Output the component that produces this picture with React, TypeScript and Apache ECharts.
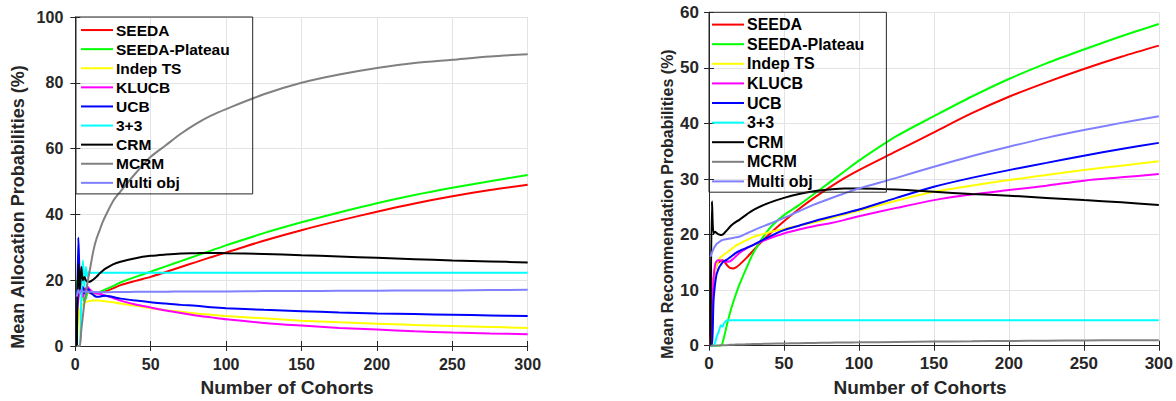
import React, { useEffect, useRef } from "react";
import * as echarts from "echarts";

// cohort grid shared by all series
const X = [1, 2, 3, 4, 5, 6, 7, 8, 9, 10, 12, 14, 16, 18, 20, 25, 30, 40, 50, 60, 70, 80, 90, 100, 125, 150, 175, 200, 225, 250, 275, 300];

const names = ["SEEDA", "SEEDA-Plateau", "Indep TS", "KLUCB", "UCB", "3+3", "CRM", "MCRM", "Multi obj"];
const colors = ["#ff0000", "#00ff00", "#ffff00", "#ff00ff", "#0000ff", "#00ffff", "#000000", "#808080", "#8080ff"];

// ---- Left: Mean Allocation Probabilities (%)
const allocSEEDA = [20, 15, 18, 17, 16, 17.5, 17, 17, 16.5, 16, 16, 16, 16.1, 16.3, 16.6, 17.5, 18.5, 19.8, 21, 22.5, 24, 25.5, 27, 28.4, 32, 35.2, 38.1, 40.8, 43.3, 45.5, 47.4, 49];
const allocPlateau = [20, 15, 17, 18, 16, 13.5, 14.5, 16, 16.5, 16.5, 16, 16, 16.3, 16.8, 17.2, 18.2, 19.3, 21, 22.6, 24.2, 25.8, 27.4, 29, 30.6, 34.3, 37.6, 40.6, 43.4, 45.9, 48.1, 50.1, 52];
const allocIndepTS = [0, 8, 11, 12, 12.5, 13, 13.3, 13.5, 13.6, 13.7, 13.8, 13.8, 13.8, 13.7, 13.6, 13.3, 12.9, 12.2, 11.5, 10.9, 10.4, 9.9, 9.5, 9.1, 8.4, 7.7, 7.2, 6.8, 6.4, 6.1, 5.8, 5.5];
const allocKLUCB = [10, 14, 17, 16, 15, 16.5, 17.5, 18, 17.5, 17, 16.3, 16, 15.8, 15.6, 15.3, 14.6, 13.8, 12.6, 11.7, 10.8, 10, 9.3, 8.7, 8.1, 7, 6.2, 5.5, 5, 4.5, 4.1, 3.8, 3.6];
const allocUCB = [0, 33, 20, 17, 18, 16, 17, 17.5, 17, 16.3, 15.5, 15, 15, 15.2, 15.3, 14.9, 14.4, 13.8, 13.3, 12.9, 12.5, 12.2, 11.8, 11.5, 11, 10.6, 10.2, 9.9, 9.7, 9.5, 9.3, 9.1];
const alloc33 = [0, 0, 0, 15, 26, 18, 24, 21, 22.5, 22.2, 22.3, 22.3, 22.3, 22.3, 22.3, 22.3, 22.3, 22.3, 22.3, 22.3, 22.3, 22.3, 22.3, 22.3, 22.3, 22.3, 22.3, 22.3, 22.3, 22.3, 22.3, 22.3];
const allocCRM = [0, 25, 17, 24, 20, 21, 20, 19.5, 19.5, 19.6, 20.2, 21, 22, 22.8, 23.5, 24.8, 25.6, 26.7, 27.4, 27.8, 28.1, 28.2, 28.3, 28.2, 28, 27.6, 27.2, 26.8, 26.4, 26, 25.7, 25.4];
const allocMCRM = [0, 0, 0, 5, 9, 13, 16, 19, 21.5, 24, 29, 32.5, 35, 37.5, 39.5, 44, 47, 52.5, 57.5, 61, 64.5, 67.5, 70, 72, 76.5, 80, 82.5, 84.5, 86, 87, 88, 88.7];
const allocMulti = [15, 17, 16, 17, 16.5, 16.6, 16.6, 16.5, 16.5, 16.5, 16.4, 16.4, 16.3, 16.3, 16.3, 16.4, 16.4, 16.5, 16.5, 16.5, 16.6, 16.6, 16.6, 16.6, 16.7, 16.7, 16.8, 16.8, 16.9, 16.9, 17, 17.1];

// ---- Right: Mean Recommendation Probabilities (%)
const recSEEDA = [0, 8, 12, 13.5, 14.5, 15, 15.1, 15.3, 15.4, 15.2, 14.5, 14, 13.9, 14.1, 14.5, 15.8, 17.3, 20, 22.4, 24.6, 26.6, 28.4, 30.1, 31.6, 35, 38.4, 41.8, 44.8, 47.4, 49.8, 52, 54];
const recPlateau = [0, 0, 0, 0, 0, 0, 0, 0, 0.5, 1.5, 3.8, 5.9, 7.7, 9.3, 10.8, 14, 16.9, 21, 23.5, 25.3, 27.3, 29.3, 31.3, 33.3, 37.7, 41.3, 44.8, 48, 50.8, 53.3, 55.7, 57.9];
const recIndepTS = [0, 6, 12, 13.5, 14.5, 15.2, 15.7, 16, 16.2, 16.4, 16.8, 17.2, 17.6, 18, 18.3, 19, 19.6, 20.4, 21, 21.6, 22.2, 22.9, 23.6, 24.3, 26.1, 27.7, 28.8, 29.8, 30.7, 31.6, 32.4, 33.2];
const recKLUCB = [0, 5, 12, 14.5, 15.2, 15.4, 15.4, 15.3, 15.2, 15.1, 15.1, 15.2, 15.6, 16.1, 16.6, 17.5, 18.2, 19.3, 20.2, 20.9, 21.5, 22, 22.6, 23.3, 24.8, 26.2, 27.2, 28, 28.8, 29.7, 30.3, 30.9];
const recUCB = [0, 0, 8, 11, 12.8, 13.6, 14.2, 14.6, 15, 15.2, 15.5, 15.9, 16.3, 16.7, 17, 17.6, 18.2, 19.6, 20.8, 21.6, 22.4, 23.1, 23.8, 24.5, 26.6, 28.6, 30.2, 31.6, 32.9, 34.2, 35.4, 36.5];
const rec33 = [0, 0, 0, 0.5, 1.5, 2.2, 3, 3.7, 3.4, 4, 4.6, 4.6, 4.6, 4.6, 4.6, 4.6, 4.6, 4.6, 4.6, 4.6, 4.6, 4.6, 4.6, 4.6, 4.6, 4.6, 4.6, 4.6, 4.6, 4.6, 4.6, 4.6];
const recCRM = [0, 26, 20.2, 20.5, 20.3, 20.1, 20, 19.9, 20, 20.2, 20.8, 21.4, 21.9, 22.3, 22.6, 23.6, 24.5, 25.7, 26.6, 27.3, 27.8, 28.1, 28.3, 28.3, 28.1, 27.7, 27.3, 27, 26.6, 26.2, 25.8, 25.3];
const recMCRM = [0, 0, 0, 0, 0, 0.05, 0.05, 0.1, 0.1, 0.1, 0.1, 0.15, 0.15, 0.2, 0.2, 0.25, 0.3, 0.35, 0.4, 0.45, 0.5, 0.55, 0.58, 0.6, 0.68, 0.75, 0.8, 0.85, 0.9, 0.95, 0.98, 1.0];
const recMulti = [16, 16.8, 17.4, 17.9, 18.3, 18.5, 18.7, 18.9, 19, 19.1, 19.2, 19.3, 19.4, 19.5, 19.6, 20.2, 20.8, 21.9, 23, 24.2, 25.4, 26.4, 27.4, 28.3, 30.2, 32.2, 34.1, 35.8, 37.4, 38.8, 40.1, 41.3];

const allocSeries = [allocSEEDA, allocPlateau, allocIndepTS, allocKLUCB, allocUCB, alloc33, allocCRM, allocMCRM, allocMulti];
const recSeries = [recSEEDA, recPlateau, recIndepTS, recKLUCB, recUCB, rec33, recCRM, recMCRM, recMulti];

const xTicksMax = 300;
const FONT = "'Liberation Sans', Arial, Helvetica, sans-serif";
const AXIS = "#262626";
const GRID = "#e3e3e3";

function axisPair(grid: number, fontSize: number, margin: number) {
  const common = {
    gridIndex: grid,
    type: "value" as const,
    min: 0,
    max: xTicksMax,
    interval: 50,
  };
  return [
    {
      ...common,
      position: "bottom",
      axisLine: { show: true, lineStyle: { color: AXIS, width: 1 } },
      axisTick: { show: true, inside: true, length: 5, lineStyle: { color: AXIS } },
      axisLabel: { show: true, color: AXIS, fontSize, fontWeight: "bold", fontFamily: FONT, margin },
      splitLine: { show: true, lineStyle: { color: GRID, width: 1 } },
    },
    {
      ...common,
      position: "top",
      axisLine: { show: true, lineStyle: { color: AXIS, width: 1 } },
      axisTick: { show: true, inside: true, length: 5, lineStyle: { color: AXIS } },
      axisLabel: { show: false },
      splitLine: { show: false },
    },
  ];
}

function yPair(grid: number, max: number, interval: number, fontSize: number, margin: number) {
  const common = { gridIndex: grid, type: "value" as const, min: 0, max, interval };
  return [
    {
      ...common,
      position: "left",
      axisLine: { show: true, lineStyle: { color: AXIS, width: 1 } },
      axisTick: { show: true, inside: true, length: 5, lineStyle: { color: AXIS } },
      axisLabel: { show: true, color: AXIS, fontSize, fontWeight: "bold", fontFamily: FONT, margin },
      splitLine: { show: true, lineStyle: { color: GRID, width: 1 } },
    },
    {
      ...common,
      position: "right",
      axisLine: { show: true, lineStyle: { color: AXIS, width: 1 } },
      axisTick: { show: true, inside: true, length: 5, lineStyle: { color: AXIS } },
      axisLabel: { show: false },
      splitLine: { show: false },
    },
  ];
}

function legendFor(left: number, top: number, fontSize: number, padding: number[], lineHeight: number) {
  return {
    left,
    top,
    orient: "vertical",
    icon: "rect",
    itemWidth: 32,
    itemHeight: 2,
    itemGap: 0,
    padding,
    borderColor: AXIS,
    borderWidth: 1,
    backgroundColor: "transparent",
    selectedMode: false,
    textStyle: { fontSize, fontWeight: "bold", color: "#000", fontFamily: FONT, lineHeight, padding: [0, 0, 0, -2] },
    data: names,
  };
}

export default function App() {
  const ref = useRef<HTMLDivElement>(null);
  useEffect(() => {
    document.body.style.margin = "0";
    if (!ref.current) return;
    const chart = echarts.init(ref.current, null, { renderer: "svg" });
    const mk = (arrs: number[][], xi: number, yi: number) =>
      arrs.map((arr, k) => ({
        name: names[k],
        type: "line",
        xAxisIndex: xi,
        yAxisIndex: yi,
        symbol: "none",
        smooth: 0.3,
        lineStyle: { width: 2, color: colors[k] },
        itemStyle: { color: colors[k] },
        data: X.map((x, i) => [x, arr[i]]),
      }));
    const titleStyle = (text: string, size: number) => ({
      text,
      fill: AXIS,
      font: `bold ${size}px ${FONT}`,
      textAlign: "center",
      textVerticalAlign: "middle",
    });
    chart.setOption({
      animation: false,
      backgroundColor: "#ffffff",
      grid: [
        { left: 75.3, top: 17, width: 452.4, height: 329 },
        { left: 709, top: 12.3, width: 451.7, height: 333.4 },
      ],
      xAxis: [...axisPair(0, 16, 10), ...axisPair(1, 17, 9)],
      yAxis: [...yPair(0, 100, 20, 16, 12), ...yPair(1, 60, 10, 17, 10)],
      legend: [
        legendFor(76, 17, 15.5, [3.5, 23, 1.5, 5], 19.1),
        legendFor(709, 12.3, 16, [2.5, 22, 1, 3], 19.6),
      ],
      graphic: [
        { type: "text", x: 18, y: 207, rotation: Math.PI / 2, style: titleStyle("Mean Allocation Probabilities (%)", 18) },
        { type: "text", x: 667, y: 204, rotation: Math.PI / 2, style: titleStyle("Mean Recommendation Probabilities (%)", 16) },
        { type: "text", x: 287, y: 387, style: titleStyle("Number of Cohorts", 19) },
        { type: "text", x: 920, y: 387, style: titleStyle("Number of Cohorts", 19) },
      ],
      series: [...mk(allocSeries, 0, 0), ...mk(recSeries, 2, 2)],
    });
    return () => chart.dispose();
  }, []);
  return <div ref={ref} style={{ width: 1176, height: 401 }} />;
}
